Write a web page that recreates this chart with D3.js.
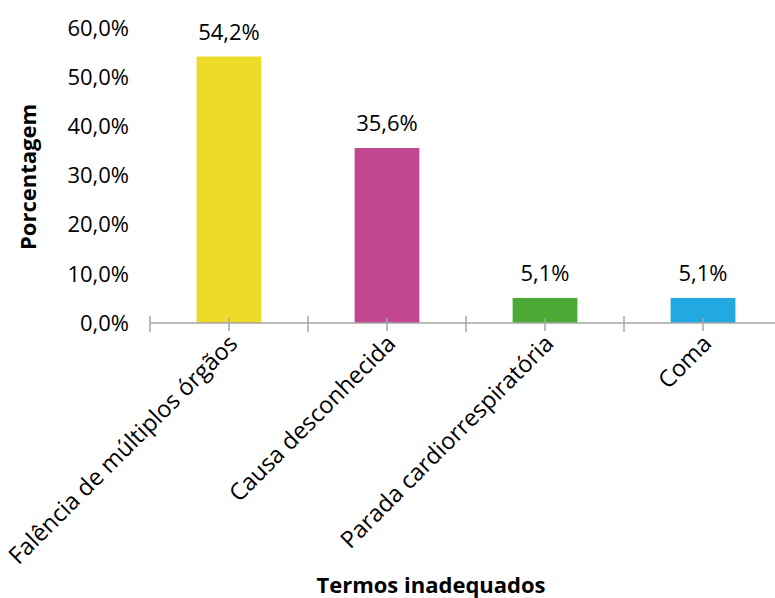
<!DOCTYPE html>
<html><head><meta charset="utf-8">
<script src="https://cdn.jsdelivr.net/npm/d3@7"></script>
<style>body{margin:0;background:#fff}svg{display:block}text{font-family:"Open Sans",sans-serif;fill:#000}</style>
</head><body><svg id="c" width="775" height="598"></svg>
<script>
const categories = ["Falência de múltiplos órgãos","Causa desconhecida","Parada cardiorrespiratória","Coma"];
const values = [54.2, 35.6, 5.1, 5.1];
const colors = ["#ECDC27","#C24791","#4AAA35","#22A9E1"];
const yTicks = [0,10,20,30,40,50,60];
const fmt = v => v.toFixed(1).replace(".", ",") + "%";

const svg = d3.select("#c");
const x = d3.scaleBand().domain(categories).range([150, 782]).paddingInner(0.59).paddingOuter(0.295);
const y = d3.scaleLinear().domain([0,60]).range([323, 28]);
const step = x.step();

// y tick labels
svg.append("g").selectAll("text").data(yTicks).join("text")
  .attr("x", 129).attr("y", d => y(d)).attr("dy","0.35em")
  .attr("text-anchor","end").style("font-size","22px").text(fmt);

// bars
svg.append("g").selectAll("rect").data(values).join("rect")
  .attr("x",(d,i)=>x(categories[i])).attr("width",x.bandwidth())
  .attr("y",d=>y(d)).attr("height",d=>y(0)-y(d)).attr("fill",(d,i)=>colors[i]);

// value labels
svg.append("g").selectAll("text").data(values).join("text")
  .attr("x",(d,i)=>x(categories[i])+x.bandwidth()/2).attr("y",d=>y(d)-17)
  .attr("text-anchor","middle").style("font-size","22px").text(fmt);

// x axis line and ticks
const ax = svg.append("g").attr("stroke","#A6A6A6").attr("stroke-width",1.5);
ax.append("line").attr("x1",150).attr("x2",775).attr("y1",y(0)).attr("y2",y(0));
d3.range(categories.length+1).forEach(i=>{
  const xx = 150 + i*step;
  ax.append("line").attr("x1",xx).attr("x2",xx).attr("y1",y(0)-7).attr("y2",y(0)+9);
});
categories.forEach(c=>{
  const xx = x(c)+x.bandwidth()/2;
  ax.append("line").attr("x1",xx).attr("x2",xx).attr("y1",y(0)-5).attr("y2",y(0)+8);
});

// category labels
svg.append("g").selectAll("text").data(categories).join("text")
  .attr("transform",c=>`translate(${x(c)+x.bandwidth()/2+10},${y(0)+22}) rotate(-45)`)
  .attr("text-anchor","end").style("font-size","23.5px").text(c=>c);

// axis titles
svg.append("text").attr("transform","translate(36,177) rotate(-90)")
  .attr("text-anchor","middle").style("font-size","22px").style("font-weight","bold").text("Porcentagem");
svg.append("text").attr("x",431).attr("y",593)
  .attr("text-anchor","middle").style("font-size","22px").style("font-weight","bold").text("Termos inadequados");
</script></body></html>
